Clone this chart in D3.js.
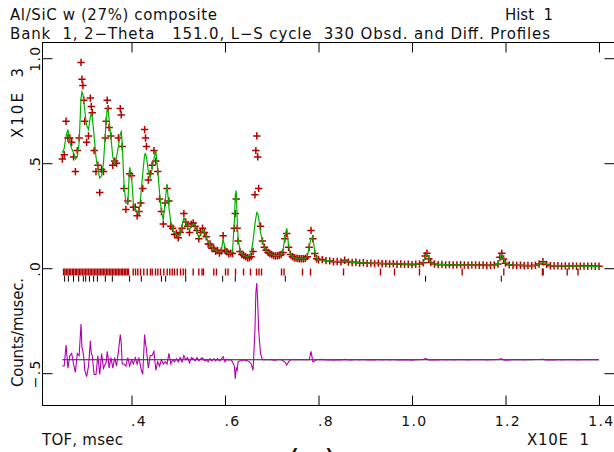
<!DOCTYPE html>
<html><head><meta charset="utf-8">
<script src="https://cdn.jsdelivr.net/npm/d3@7"></script>
<style>
body{margin:0;background:#fff}
svg{display:block}
text{font-family:"DejaVu Sans",sans-serif;fill:#111;white-space:pre}
</style>
</head><body>
<svg id="c" width="614" height="452"></svg>
<script>
// ---------------- data (TOF in X10E 1 msec, counts in X10E 3 per musec) ----------------
const titleLine1 = "Al/SiC w (27%) composite";
const titleHist = "Hist  1";
const titleLine2 = "Bank  1, 2\u2212Theta   151.0, L\u2212S cycle  330 Obsd. and Diff. Profiles";
const xAxisTitle = "TOF, msec";
const xAxisExp = "X10E  1";
const yAxisExp = "X10E  3";
const yAxisTitle = "Counts/musec.";
const panelLabel = "(a)";

const xTicks = [0.4, 0.6, 0.8, 1.0, 1.2, 1.4];
const yTicks = [-0.5, 0.0, 0.5, 1.0];

const tofA = [
 0.252,0.256,0.260,0.264,0.268,0.272,0.276,0.280,0.284,0.288,
 0.292,0.294,0.296,0.298,0.300,0.304,0.308,0.312,0.314,0.316,
 0.320,0.324,0.328,0.332,0.336,0.340,0.344,0.346,0.348,0.350,
 0.352,0.356,0.360,0.364,0.368,0.372,0.376,0.378,0.380,0.384,
 0.388,0.392,0.396,0.400,0.404,0.408,0.412,0.416,0.420,0.424,
 0.428,0.430,0.432,0.436,0.440,0.444,0.448,0.452,0.456,0.460,
 0.464,0.468,0.472,0.476,0.480,0.484,0.488,0.492,0.496,0.500,
 0.504,0.508,0.512,0.516,0.520,0.524,0.528,0.532,0.536,0.540,
 0.544,0.548,0.552,0.556,0.560,0.564,0.568,0.572,0.576,0.580,
 0.584,0.588,0.592,0.596,0.600,0.604,0.608,0.612,0.616,0.620,
 0.622,0.624,0.626,0.628,0.632,0.636,0.640,0.644,0.648,0.652,
 0.656,0.660,0.664,0.666,0.668,0.670,0.672,0.676,0.680,0.684,
 0.688,0.692,0.696,0.700,0.704,0.708,0.712,0.716,0.720,0.724,
 0.728,0.732,0.736,0.740,0.744,0.748,0.752,0.756,0.760,0.764,
 0.768,0.772,0.776,0.780,0.784,0.788,0.792,0.796,0.800];
const obsA = [
 0.52,0.54,0.70,0.62,0.62,0.60,0.53,0.46,0.56,0.62,
 0.98,0.90,0.87,0.80,0.70,0.60,0.63,0.81,0.77,0.74,
 0.56,0.46,0.49,0.36,0.47,0.46,0.62,0.70,0.80,0.76,
 0.67,0.63,0.49,0.51,0.50,0.62,0.76,0.73,0.58,0.38,
 0.28,0.32,0.45,0.44,0.29,0.29,0.25,0.27,0.31,0.38,
 0.66,0.62,0.58,0.42,0.45,0.49,0.56,0.51,0.46,0.33,
 0.27,0.21,0.31,0.38,0.32,0.20,0.19,0.16,0.165,0.145,
 0.17,0.19,0.26,0.22,0.20,0.17,0.21,0.215,0.20,0.18,
 0.14,0.17,0.19,0.17,0.15,0.115,0.115,0.095,0.095,0.08,
 0.085,0.072,0.082,0.155,0.085,0.078,0.068,0.072,0.07,0.19,
 0.26,0.33,0.19,0.13,0.08,0.065,0.06,0.055,0.05,0.05,
 0.055,0.08,0.35,0.56,0.63,0.53,0.38,0.20,0.13,0.10,
 0.085,0.075,0.07,0.065,0.06,0.058,0.06,0.062,0.065,0.075,
 0.14,0.165,0.10,0.065,0.055,0.05,0.048,0.046,0.045,0.045,
 0.045,0.047,0.055,0.10,0.18,0.14,0.07,0.045,0.04];
const calcA = [
 0.55,0.57,0.63,0.66,0.60,0.57,0.55,0.52,0.53,0.60,
 0.81,0.84,0.83,0.79,0.75,0.68,0.66,0.72,0.74,0.72,
 0.63,0.53,0.47,0.43,0.44,0.50,0.64,0.71,0.76,0.75,
 0.71,0.62,0.53,0.50,0.53,0.58,0.64,0.65,0.60,0.40,
 0.31,0.31,0.48,0.44,0.31,0.28,0.27,0.26,0.35,0.45,
 0.54,0.545,0.53,0.46,0.43,0.47,0.52,0.56,0.47,0.36,
 0.27,0.23,0.32,0.40,0.29,0.22,0.19,0.17,0.16,0.155,
 0.16,0.20,0.24,0.22,0.19,0.185,0.20,0.21,0.205,0.17,
 0.145,0.165,0.18,0.175,0.15,0.125,0.11,0.10,0.09,0.085,
 0.08,0.078,0.08,0.14,0.095,0.075,0.07,0.07,0.08,0.22,
 0.35,0.37,0.24,0.14,0.085,0.07,0.06,0.058,0.055,0.06,
 0.075,0.13,0.21,0.24,0.265,0.26,0.24,0.17,0.13,0.10,
 0.085,0.075,0.07,0.065,0.062,0.06,0.06,0.062,0.065,0.08,
 0.15,0.19,0.11,0.065,0.055,0.05,0.048,0.046,0.045,0.045,
 0.045,0.047,0.055,0.10,0.14,0.15,0.075,0.045,0.04];

const tofB = [
 0.808,0.816,0.824,0.832,0.840,0.848,0.856,0.864,0.872,0.880,
 0.888,0.896,0.904,0.912,0.920,0.928,0.936,0.944,0.952,0.960,
 0.968,0.976,0.984,0.992,1.000,1.008,1.016,1.024,1.028,1.032,
 1.036,1.040,1.048,1.056,1.064,1.072,1.080,1.088,1.096,1.104,
 1.112,1.120,1.128,1.136,1.144,1.152,1.160,1.168,1.176,1.184,
 1.188,1.192,1.196,1.200,1.208,1.216,1.224,1.232,1.240,1.248,
 1.256,1.264,1.272,1.280,1.288,1.296,1.304,1.312,1.320,1.328,
 1.336,1.344,1.352,1.360,1.368,1.376,1.384,1.392,1.400];
const obsB = [
 0.041,0.036,0.035,0.031,0.032,0.030,0.038,0.029,0.027,0.028,
 0.025,0.026,0.023,0.024,0.022,0.024,0.021,0.022,0.020,0.022,
 0.019,0.020,0.018,0.019,0.017,0.019,0.020,0.026,0.058,0.071,
 0.045,0.027,0.020,0.017,0.018,0.016,0.017,0.015,0.016,0.017,
 0.015,0.014,0.016,0.015,0.014,0.015,0.013,0.014,0.015,0.020,
 0.052,0.071,0.044,0.024,0.016,0.014,0.013,0.014,0.012,0.013,
 0.012,0.014,0.020,0.031,0.018,0.012,0.011,0.012,0.010,0.011,
 0.010,0.011,0.009,0.010,0.010,0.009,0.010,0.009,0.009];
const calcB = [
 0.039,0.037,0.035,0.033,0.032,0.031,0.036,0.030,0.028,0.027,
 0.026,0.025,0.024,0.024,0.023,0.023,0.022,0.021,0.021,0.021,
 0.020,0.020,0.019,0.019,0.019,0.019,0.020,0.025,0.052,0.068,
 0.046,0.028,0.020,0.018,0.017,0.017,0.016,0.016,0.016,0.016,
 0.015,0.015,0.015,0.015,0.014,0.014,0.014,0.014,0.015,0.019,
 0.048,0.066,0.045,0.026,0.017,0.014,0.013,0.013,0.013,0.012,
 0.012,0.013,0.019,0.029,0.019,0.013,0.012,0.011,0.011,0.011,
 0.010,0.010,0.010,0.010,0.010,0.009,0.009,0.009,0.009];

// reflection positions, phase 1 (red) and phase 2 (black)
const reflPhase1 = [
 0.2546,0.2575,0.2604,0.2638,0.2669,0.2701,0.2735,0.2762,0.2797,0.2826,
 0.2858,0.2891,0.2920,0.2953,0.2985,0.3017,0.3048,0.3080,0.3113,0.3142,
 0.3176,0.3207,0.3239,0.3270,0.3304,0.3335,0.3367,0.3398,0.3431,0.3462,
 0.3494,0.3527,0.3559,0.3590,0.3622,0.3655,0.3686,0.3718,0.3750,0.3783,
 0.3812,0.3846,0.3877,0.3909,0.3936,
 0.4036,0.4086,0.4135,0.4193,0.4263,0.4336,0.4406,0.4443,0.4513,0.4563,
 0.4620,0.4691,0.4764,0.4819,0.4871,0.4920,0.4978,0.5048,0.5106,0.5155,
 0.5320,0.5440,0.5508,0.5540,0.5760,0.5818,0.6011,0.6064,0.6225,0.6396,
 0.6545,0.6674,0.6727,0.6781,0.7209,0.7262,0.7658,0.7829,0.8535,0.9326,
 0.9626,1.0160,1.1074,1.1964,1.2790,1.2806,1.3320,1.3551];
const reflPhase2 = [
 0.257,0.265,0.276,0.287,0.297,0.302,0.310,0.319,0.327,0.344,
 0.359,0.396,0.421,0.464,0.473,0.516,0.595,0.622,0.729,1.029,1.191];

const diffOffset = -0.436;

// ---------------- drawing ----------------
const svg = d3.select("#c");
const x = d3.scaleLinear().domain([0.2096, 1.4353]).range([42.5, 615.5]);
const y = d3.scaleLinear().domain([-0.6538, 1.0748]).range([405.5, 42.5]);

const tof = tofA.concat(tofB), obs = obsA.concat(obsB), calc = calcA.concat(calcB);
const pts = tof.map((t, i) => ({t, o: obs[i], c: calc[i], d: obs[i] - calc[i]}));

const fmt = d => d3.format(".1f")(d).replace(/^0\./, ".").replace(/^[-\u2212]0\./, "\u2212.");

// frame
svg.append("rect").attr("x", 42.5).attr("y", 42.5).attr("width", 573).attr("height", 363)
  .attr("fill", "none").attr("stroke", "#000").attr("stroke-width", 1);

// axes
const gx = svg.append("g").attr("transform", `translate(0,${y.range()[0]})`)
  .call(d3.axisBottom(x).tickValues(xTicks).tickSize(-10).tickSizeOuter(0).tickFormat(fmt));
gx.select(".domain").remove();
gx.attr("font-family", null).attr("font-size", null);
gx.selectAll("text").attr("text-anchor", "end").attr("x", 15).attr("y", 20).attr("dy", null)
  .style("font-size", "14px").style("letter-spacing", "1.3px");

const gt = svg.append("g").attr("transform", `translate(0,${y.range()[1]})`)
  .call(d3.axisTop(x).tickValues(xTicks).tickSize(-10).tickSizeOuter(0).tickFormat(""));
gt.select(".domain").remove();

const gy = svg.append("g").attr("transform", `translate(${x.range()[0]},0)`)
  .call(d3.axisLeft(y).tickValues(yTicks).tickSize(-10).tickSizeOuter(0).tickFormat(fmt));
gy.select(".domain").remove();
gy.attr("font-family", null).attr("font-size", null);
gy.selectAll("text").attr("x", 0).attr("dy", null).attr("text-anchor", "middle")
  .attr("transform", "translate(-2.5,0) rotate(-90)")
  .style("font-size", "14px").style("letter-spacing", "1.3px");

const gr = svg.append("g").attr("transform", `translate(${x.range()[1] - 1},0)`)
  .call(d3.axisRight(y).tickValues(yTicks).tickSize(-10).tickSizeOuter(0).tickFormat(""));
gr.select(".domain").remove();

// reflection tick marks
const y0 = y(0);
svg.append("g").selectAll("line").data(reflPhase1).join("line")
  .attr("x1", d => x(d)).attr("x2", d => x(d))
  .attr("y1", y0 + 0.3).attr("y2", y0 + 7.3)
  .attr("stroke", "#b40000").attr("stroke-width", 1.4);
svg.append("g").selectAll("line").data(reflPhase2).join("line")
  .attr("x1", d => x(d)).attr("x2", d => x(d))
  .attr("y1", y0 + 7.5).attr("y2", y0 + 13.5)
  .attr("stroke", "#000").attr("stroke-width", 1);

// observed pluses
svg.append("g").selectAll("path").data(pts).join("path")
  .attr("transform", d => `translate(${x(d.t)},${y(d.o)})`)
  .attr("d", "M-3.7,0H3.7M0,-3.7V3.7")
  .attr("stroke", "#b40000").attr("stroke-width", 1.5).attr("fill", "none");

// calculated line
svg.append("path").datum(pts)
  .attr("d", d3.line().x(d => x(d.t)).y(d => y(d.c)))
  .attr("fill", "none").attr("stroke", "#00b000").attr("stroke-width", 1.2);

// difference baseline and curve
svg.append("line").attr("x1", x(tof[0])).attr("x2", x(tof[tof.length - 1]))
  .attr("y1", y(diffOffset)).attr("y2", y(diffOffset))
  .attr("stroke", "#222").attr("stroke-width", 1);
svg.append("path").datum(pts)
  .attr("d", d3.line().x(d => x(d.t)).y(d => y(d.d + diffOffset)))
  .attr("fill", "none").attr("stroke", "#b000b0").attr("stroke-width", 1.1);

// texts
const T = (s, px, py, len, size) => {
  const t = svg.append("text").attr("x", px).attr("y", py).style("font-size", (size || 15) + "px").text(s);
  if (len) t.attr("textLength", len).attr("lengthAdjust", "spacing");
  return t;
};
T(titleLine1, 10, 19.5, 207);
T(titleHist, 505, 19.5, 48);
T(titleLine2, 10, 38.5, 540);
T(xAxisTitle, 42, 445, 81);
T(xAxisExp, 527, 445, 62);
svg.append("text").attr("transform", "translate(23,103) rotate(-90)").attr("text-anchor", "middle")
  .style("font-size", "15px").attr("textLength", 70).attr("lengthAdjust", "spacing").text(yAxisExp);
svg.append("text").attr("transform", "translate(23,332.5) rotate(-90)").attr("text-anchor", "middle")
  .style("font-size", "15px").attr("textLength", 109).attr("lengthAdjust", "spacing").text(yAxisTitle);
svg.append("text").attr("x", 313).attr("y", 474).attr("text-anchor", "middle")
  .style("font-size", "33px").style("letter-spacing", "2px").text(panelLabel);
</script>
</body></html>
